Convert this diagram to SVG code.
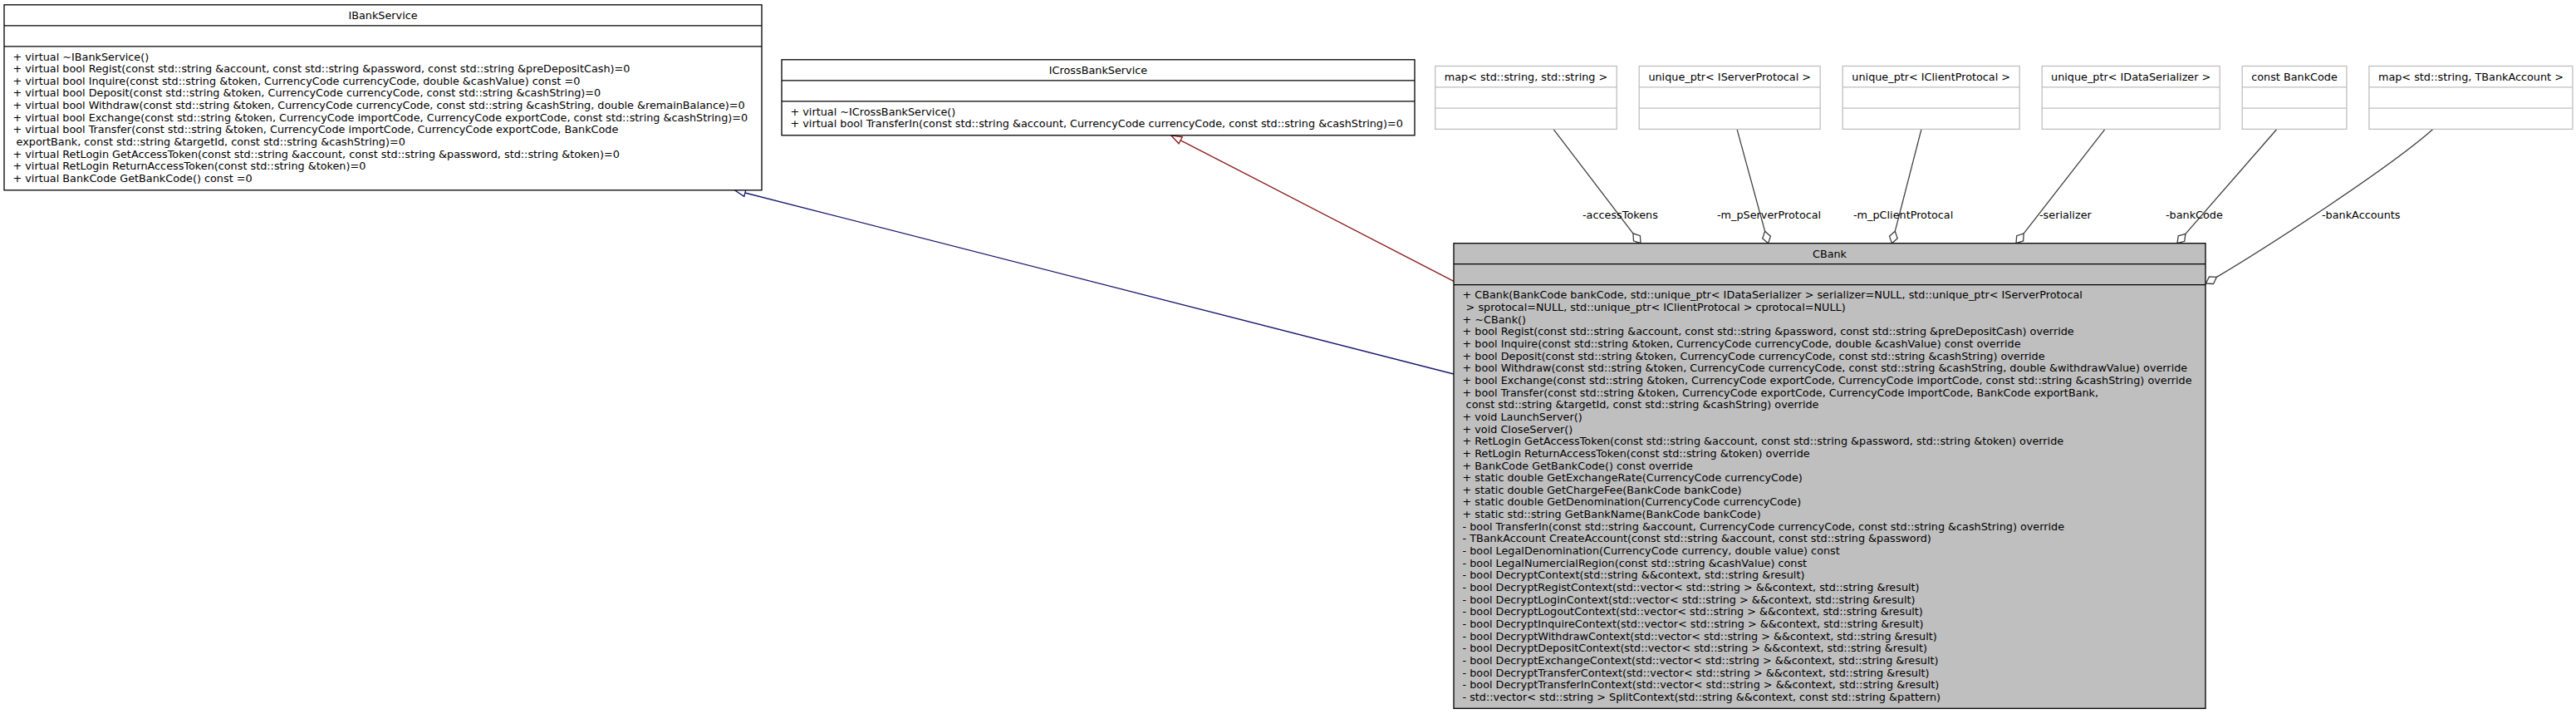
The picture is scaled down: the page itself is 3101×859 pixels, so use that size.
<svg xmlns="http://www.w3.org/2000/svg" width="3101" height="859" viewBox="0 0 3101 859">
<style>
.t{font-family:"DejaVu Sans","Liberation Sans",sans-serif;font-size:12.8px;fill:#000}
.c{text-anchor:middle}
.box{fill:#fff;stroke:#000;stroke-width:1.3}
.gbox{fill:#fff;stroke:#bfbfbf;stroke-width:1.3}
.gdiv{stroke:#bfbfbf;stroke-width:1.3}
.cb{fill:#bfbfbf;stroke:#000;stroke-width:1.3}
.div{stroke:#000;stroke-width:1.3}
.inhB{stroke:#191970;stroke-width:1.3;fill:none}
.inhR{stroke:#8b1a1a;stroke-width:1.3;fill:none}
.aggL{stroke:#404040;stroke-width:1.3;fill:none}
.aggD{stroke:#404040;stroke-width:1.3;fill:#fff}
</style>
<rect width="3101" height="859" fill="#fff"/>
<g id="connectors">
  <path class="inhB" d="M1750,450 L896.9,232"/>
  <polygon class="inhB" fill="#fff" points="884.3,228.8 895.8,236.4 898,227.6" style="fill:#fff"/>
  <path class="inhR" d="M1750,338.3 L1421.2,168.8"/>
  <polygon class="inhR" points="1409.6,162.8 1419.1,172.8 1423.3,164.8" style="fill:#fff"/>
  <path class="aggL" d="M1870,155.3 L1965.9,280.8"/>
  <polygon class="aggD" points="1975,292.7 1974.4,283.7 1965.9,280.8 1966.5,289.8"/>
  <path class="aggL" d="M2091,155.3 L2124.6,278.2"/>
  <polygon class="aggD" points="2128.5,292.7 2131.4,284.2 2124.6,278.2 2121.7,286.8"/>
  <path class="aggL" d="M2313,155.3 L2281.3,278.2"/>
  <polygon class="aggD" points="2277.5,292.7 2284.2,286.7 2281.3,278.2 2274.5,284.2"/>
  <path class="aggL" d="M2534,155.3 L2436.2,280.9"/>
  <polygon class="aggD" points="2427,292.7 2435.6,289.9 2436.2,280.9 2427.7,283.7"/>
  <path class="aggL" d="M2741,155.3 L2630.9,281.4"/>
  <polygon class="aggD" points="2621,292.7 2629.7,290.3 2630.9,281.4 2622.2,283.8"/>
  <path class="aggL" d="M2929,155.3 C2876.8,201.9 2728.6,297.7 2668.4,333.4"/>
  <polygon class="aggD" points="2655.5,341 2664.5,341.5 2668.4,333.4 2659.4,332.9"/>
  <text class="t" x="1905" y="263.4">-accessTokens</text>
  <text class="t" x="2067" y="263.4">-m_pServerProtocal</text>
  <text class="t" x="2231" y="263.4">-m_pClientProtocal</text>
  <text class="t" x="2455" y="263.4">-serializer</text>
  <text class="t" x="2607" y="263.4">-bankCode</text>
  <text class="t" x="2795" y="263.4">-bankAccounts</text>
</g>
<g id="node_IBankService">
  <rect class="box" x="5" y="5.8" width="912" height="223"/>
  <line class="div" x1="5" y1="30.8" x2="917" y2="30.8"/>
  <line class="div" x1="5" y1="55.8" x2="917" y2="55.8"/>
  <text class="t c" x="461" y="22.7">IBankService</text>
  <text class="t" x="15.5" y="72.5">+ virtual ~IBankService()</text>
  <text class="t" x="15.5" y="87.15">+ virtual bool Regist(const std::string &amp;account, const std::string &amp;password, const std::string &amp;preDepositCash)=0</text>
  <text class="t" x="15.5" y="101.8">+ virtual bool Inquire(const std::string &amp;token, CurrencyCode currencyCode, double &amp;cashValue) const =0</text>
  <text class="t" x="15.5" y="116.45">+ virtual bool Deposit(const std::string &amp;token, CurrencyCode currencyCode, const std::string &amp;cashString)=0</text>
  <text class="t" x="15.5" y="131.1">+ virtual bool Withdraw(const std::string &amp;token, CurrencyCode currencyCode, const std::string &amp;cashString, double &amp;remainBalance)=0</text>
  <text class="t" x="15.5" y="145.75">+ virtual bool Exchange(const std::string &amp;token, CurrencyCode importCode, CurrencyCode exportCode, const std::string &amp;cashString)=0</text>
  <text class="t" x="15.5" y="160.4">+ virtual bool Transfer(const std::string &amp;token, CurrencyCode importCode, CurrencyCode exportCode, BankCode</text>
  <text class="t" x="19.6" y="175.05">exportBank, const std::string &amp;targetId, const std::string &amp;cashString)=0</text>
  <text class="t" x="15.5" y="189.7">+ virtual RetLogin GetAccessToken(const std::string &amp;account, const std::string &amp;password, std::string &amp;token)=0</text>
  <text class="t" x="15.5" y="204.35">+ virtual RetLogin ReturnAccessToken(const std::string &amp;token)=0</text>
  <text class="t" x="15.5" y="219">+ virtual BankCode GetBankCode() const =0</text>
</g>
<g id="node_ICrossBankService">
  <rect class="box" x="941" y="71.8" width="762" height="91"/>
  <line class="div" x1="941" y1="96.8" x2="1703" y2="96.8"/>
  <line class="div" x1="941" y1="121.8" x2="1703" y2="121.8"/>
  <text class="t c" x="1322" y="88.7">ICrossBankService</text>
  <text class="t" x="951.5" y="138.5">+ virtual ~ICrossBankService()</text>
  <text class="t" x="951.5" y="153.15">+ virtual bool TransferIn(const std::string &amp;account, CurrencyCode currencyCode, const std::string &amp;cashString)=0</text>
</g>
<g id="node_map_string_string">
  <rect class="gbox" x="1727.7" y="79.5" width="218.5" height="75.9"/>
  <line class="gdiv" x1="1727.7" y1="104.8" x2="1946.2" y2="104.8"/>
  <line class="gdiv" x1="1727.7" y1="130.1" x2="1946.2" y2="130.1"/>
  <text class="t c" x="1837" y="96.5">map&lt; std::string, std::string &gt;</text>
</g>
<g id="node_unique_ptr_IServerProtocal">
  <rect class="gbox" x="1973.2" y="79.5" width="218" height="75.9"/>
  <line class="gdiv" x1="1973.2" y1="104.8" x2="2191.2" y2="104.8"/>
  <line class="gdiv" x1="1973.2" y1="130.1" x2="2191.2" y2="130.1"/>
  <text class="t c" x="2082.2" y="96.5">unique_ptr&lt; IServerProtocal &gt;</text>
</g>
<g id="node_unique_ptr_IClientProtocal">
  <rect class="gbox" x="2218.2" y="79.5" width="213" height="75.9"/>
  <line class="gdiv" x1="2218.2" y1="104.8" x2="2431.2" y2="104.8"/>
  <line class="gdiv" x1="2218.2" y1="130.1" x2="2431.2" y2="130.1"/>
  <text class="t c" x="2324.7" y="96.5">unique_ptr&lt; IClientProtocal &gt;</text>
</g>
<g id="node_unique_ptr_IDataSerializer">
  <rect class="gbox" x="2458.2" y="79.5" width="214" height="75.9"/>
  <line class="gdiv" x1="2458.2" y1="104.8" x2="2672.2" y2="104.8"/>
  <line class="gdiv" x1="2458.2" y1="130.1" x2="2672.2" y2="130.1"/>
  <text class="t c" x="2565.2" y="96.5">unique_ptr&lt; IDataSerializer &gt;</text>
</g>
<g id="node_const_BankCode">
  <rect class="gbox" x="2699.2" y="79.5" width="125.7" height="75.9"/>
  <line class="gdiv" x1="2699.2" y1="104.8" x2="2824.9" y2="104.8"/>
  <line class="gdiv" x1="2699.2" y1="130.1" x2="2824.9" y2="130.1"/>
  <text class="t c" x="2762" y="96.5">const BankCode</text>
</g>
<g id="node_map_string_TBankAccount">
  <rect class="gbox" x="2851.9" y="79.5" width="245" height="75.9"/>
  <line class="gdiv" x1="2851.9" y1="104.8" x2="3096.9" y2="104.8"/>
  <line class="gdiv" x1="2851.9" y1="130.1" x2="3096.9" y2="130.1"/>
  <text class="t c" x="2974.4" y="96.5">map&lt; std::string, TBankAccount &gt;</text>
</g>
<g id="node_CBank">
  <rect class="cb" x="1750" y="292.7" width="905" height="559.6"/>
  <line class="div" x1="1750" y1="317.7" x2="2655" y2="317.7"/>
  <line class="div" x1="1750" y1="342.7" x2="2655" y2="342.7"/>
  <text class="t c" x="2202.5" y="309.6">CBank</text>
  <text class="t" x="1760.5" y="359.4">+ CBank(BankCode bankCode, std::unique_ptr&lt; IDataSerializer &gt; serializer=NULL, std::unique_ptr&lt; IServerProtocal</text>
  <text class="t" x="1764.6" y="374.05">&gt; sprotocal=NULL, std::unique_ptr&lt; IClientProtocal &gt; cprotocal=NULL)</text>
  <text class="t" x="1760.5" y="388.7">+ ~CBank()</text>
  <text class="t" x="1760.5" y="403.35">+ bool Regist(const std::string &amp;account, const std::string &amp;password, const std::string &amp;preDepositCash) override</text>
  <text class="t" x="1760.5" y="418">+ bool Inquire(const std::string &amp;token, CurrencyCode currencyCode, double &amp;cashValue) const override</text>
  <text class="t" x="1760.5" y="432.65">+ bool Deposit(const std::string &amp;token, CurrencyCode currencyCode, const std::string &amp;cashString) override</text>
  <text class="t" x="1760.5" y="447.3">+ bool Withdraw(const std::string &amp;token, CurrencyCode currencyCode, const std::string &amp;cashString, double &amp;withdrawValue) override</text>
  <text class="t" x="1760.5" y="461.95">+ bool Exchange(const std::string &amp;token, CurrencyCode exportCode, CurrencyCode importCode, const std::string &amp;cashString) override</text>
  <text class="t" x="1760.5" y="476.6">+ bool Transfer(const std::string &amp;token, CurrencyCode exportCode, CurrencyCode importCode, BankCode exportBank,</text>
  <text class="t" x="1764.6" y="491.25">const std::string &amp;targetId, const std::string &amp;cashString) override</text>
  <text class="t" x="1760.5" y="505.9">+ void LaunchServer()</text>
  <text class="t" x="1760.5" y="520.55">+ void CloseServer()</text>
  <text class="t" x="1760.5" y="535.2">+ RetLogin GetAccessToken(const std::string &amp;account, const std::string &amp;password, std::string &amp;token) override</text>
  <text class="t" x="1760.5" y="549.85">+ RetLogin ReturnAccessToken(const std::string &amp;token) override</text>
  <text class="t" x="1760.5" y="564.5">+ BankCode GetBankCode() const override</text>
  <text class="t" x="1760.5" y="579.15">+ static double GetExchangeRate(CurrencyCode currencyCode)</text>
  <text class="t" x="1760.5" y="593.8">+ static double GetChargeFee(BankCode bankCode)</text>
  <text class="t" x="1760.5" y="608.45">+ static double GetDenomination(CurrencyCode currencyCode)</text>
  <text class="t" x="1760.5" y="623.1">+ static std::string GetBankName(BankCode bankCode)</text>
  <text class="t" x="1760.5" y="637.75">- bool TransferIn(const std::string &amp;account, CurrencyCode currencyCode, const std::string &amp;cashString) override</text>
  <text class="t" x="1760.5" y="652.4">- TBankAccount CreateAccount(const std::string &amp;account, const std::string &amp;password)</text>
  <text class="t" x="1760.5" y="667.05">- bool LegalDenomination(CurrencyCode currency, double value) const</text>
  <text class="t" x="1760.5" y="681.7">- bool LegalNumercialRegion(const std::string &amp;cashValue) const</text>
  <text class="t" x="1760.5" y="696.35">- bool DecryptContext(std::string &amp;&amp;context, std::string &amp;result)</text>
  <text class="t" x="1760.5" y="711">- bool DecryptRegistContext(std::vector&lt; std::string &gt; &amp;&amp;context, std::string &amp;result)</text>
  <text class="t" x="1760.5" y="725.65">- bool DecryptLoginContext(std::vector&lt; std::string &gt; &amp;&amp;context, std::string &amp;result)</text>
  <text class="t" x="1760.5" y="740.3">- bool DecryptLogoutContext(std::vector&lt; std::string &gt; &amp;&amp;context, std::string &amp;result)</text>
  <text class="t" x="1760.5" y="754.95">- bool DecryptInquireContext(std::vector&lt; std::string &gt; &amp;&amp;context, std::string &amp;result)</text>
  <text class="t" x="1760.5" y="769.6">- bool DecryptWithdrawContext(std::vector&lt; std::string &gt; &amp;&amp;context, std::string &amp;result)</text>
  <text class="t" x="1760.5" y="784.25">- bool DecryptDepositContext(std::vector&lt; std::string &gt; &amp;&amp;context, std::string &amp;result)</text>
  <text class="t" x="1760.5" y="798.9">- bool DecryptExchangeContext(std::vector&lt; std::string &gt; &amp;&amp;context, std::string &amp;result)</text>
  <text class="t" x="1760.5" y="813.55">- bool DecryptTransferContext(std::vector&lt; std::string &gt; &amp;&amp;context, std::string &amp;result)</text>
  <text class="t" x="1760.5" y="828.2">- bool DecryptTransferInContext(std::vector&lt; std::string &gt; &amp;&amp;context, std::string &amp;result)</text>
  <text class="t" x="1760.5" y="842.85">- std::vector&lt; std::string &gt; SplitContext(std::string &amp;&amp;context, const std::string &amp;pattern)</text>
</g>
</svg>
